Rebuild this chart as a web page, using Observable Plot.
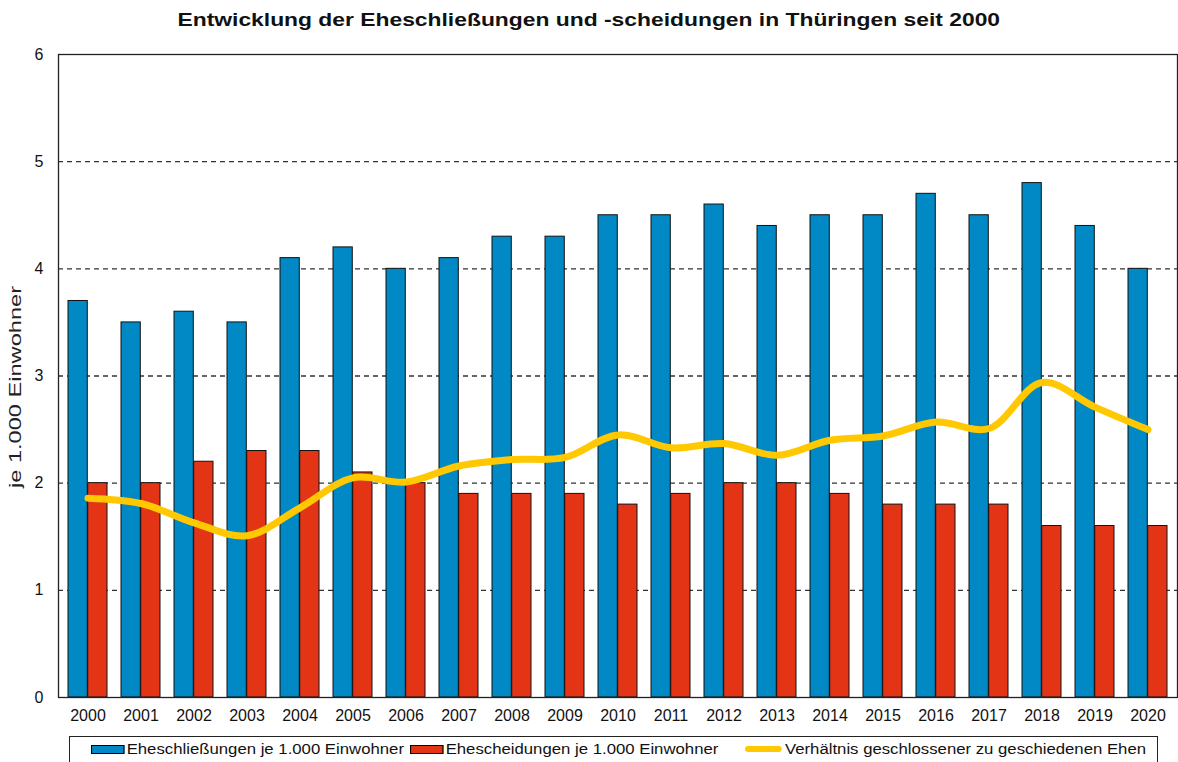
<!DOCTYPE html>
<html>
<head>
<meta charset="utf-8">
<script src="https://cdn.jsdelivr.net/npm/d3@7"></script>
<script src="https://cdn.jsdelivr.net/npm/@observablehq/plot@0.6"></script>
<style>
  html, body { margin: 0; padding: 0; background: #fff; }
  body { width: 1178px; height: 762px; overflow: hidden; position: relative; font-family: "Liberation Sans", Arial, sans-serif; }
  #title { position: absolute; left: 0; top: 9px; width: 1178px; text-align: center; font-weight: bold; font-size: 18.5px; color: #111; transform: scaleX(1.235); transform-origin: 590px 0; white-space: nowrap; }
  #ylabel { position: absolute; left: 15px; top: 387px; font-size: 16.5px; color: #222; white-space: nowrap; transform: translate(-50%, -50%) rotate(-90deg) scaleX(1.43); }
  #chart { position: absolute; left: 0; top: 0; }
  #chart svg text { font-size: 16px; }
  #legend { position: absolute; left: 69px; top: 736px; width: 1089px; height: 40px; border: 1px solid #222; box-sizing: border-box; font-size: 15.5px; color: #111; }
  .item { position: absolute; top: 3px; display: flex; align-items: center; white-space: nowrap; transform: scaleX(1.08); transform-origin: 0 0; }
  .sw { width: 29px; height: 7px; border: 1px solid #000; margin-right: 2px; }
  .ln { width: 34px; height: 6px; border-radius: 3px; margin-right: 3px; }
</style>
</head>
<body>
<div id="title">Entwicklung der Eheschließungen und -scheidungen in Thüringen seit 2000</div>
<div id="chart"></div>
<div id="ylabel">je 1.000 Einwohner</div>
<div id="legend">
  <div class="item" style="left:21px"><span class="sw" style="background:#0089C4"></span>Eheschließungen je 1.000 Einwohner</div>
  <div class="item" style="left:340px"><span class="sw" style="background:#E33516"></span>Ehescheidungen je 1.000 Einwohner</div>
  <div class="item" style="left:675px"><span class="ln" style="background:#FFC800"></span>Verhältnis geschlossener zu geschiedenen Ehen</div>
</div>
<script>
const years = ["2000","2001","2002","2003","2004","2005","2006","2007","2008","2009","2010","2011","2012","2013","2014","2015","2016","2017","2018","2019","2020"];
const marriages = [3.7,3.5,3.6,3.5,4.1,4.2,4.0,4.1,4.3,4.3,4.5,4.5,4.6,4.4,4.5,4.5,4.7,4.5,4.8,4.4,4.0];
const divorces = [2.0,2.0,2.2,2.3,2.3,2.1,2.0,1.9,1.9,1.9,1.8,1.9,2.0,2.0,1.9,1.8,1.8,1.8,1.6,1.6,1.6];
const ratio = [1.86,1.81,1.63,1.51,1.77,2.05,2.01,2.16,2.22,2.24,2.45,2.33,2.37,2.26,2.40,2.44,2.57,2.51,2.94,2.71,2.50];
const yTicks = [0,1,2,3,4,5,6];
const gridTicks = [1,2,3,4,5];

const rowsM = years.map((y, i) => ({year: y, value: marriages[i]}));
const rowsD = years.map((y, i) => ({year: y, value: divorces[i]}));
const rowsR = years.map((y, i) => ({year: y, value: ratio[i]}));

const W = 1178, H = 735, mL = 58, mR = 1, mT = 54, mB = 38;
const pIn = 0.26, pOut = 0.13;
const step = (W - mL - mR) / (years.length - pIn + 2 * pOut);
const half = step * (1 - pIn) / 2;

const chart = Plot.plot({
  width: W, height: H,
  marginLeft: mL, marginRight: mR, marginTop: mT, marginBottom: mB,
  style: {fontFamily: '"Liberation Sans", Arial, sans-serif', fontSize: "16px", color: "#111", background: "transparent"},
  x: {type: "band", domain: years, paddingInner: pIn, paddingOuter: pOut, label: null},
  y: {domain: [0, 6], label: null},
  marks: [
    Plot.ruleY(gridTicks, {stroke: "#333", strokeWidth: 1.3, strokeDasharray: "5,4"}),
    Plot.barY(rowsM, {x: "year", y: "value", fill: "#0089C4", stroke: "#111", strokeWidth: 1, insetRight: half}),
    Plot.barY(rowsD, {x: "year", y: "value", fill: "#E33516", stroke: "#111", strokeWidth: 1, insetLeft: half}),
    Plot.line(rowsR, {x: "year", y: "value", stroke: "#FFC800", strokeWidth: 7, curve: "catmull-rom", strokeLinecap: "round", strokeLinejoin: "round"}),
    Plot.frame({stroke: "#222", strokeWidth: 1.3}),
    Plot.axisY(yTicks, {tickSize: 0, tickPadding: 15, fontSize: 16, tickFormat: "d", label: null}),
    Plot.axisX({tickSize: 0, tickPadding: 12, fontSize: 16, label: null})
  ]
});
document.getElementById("chart").appendChild(chart);
</script>
</body>
</html>
